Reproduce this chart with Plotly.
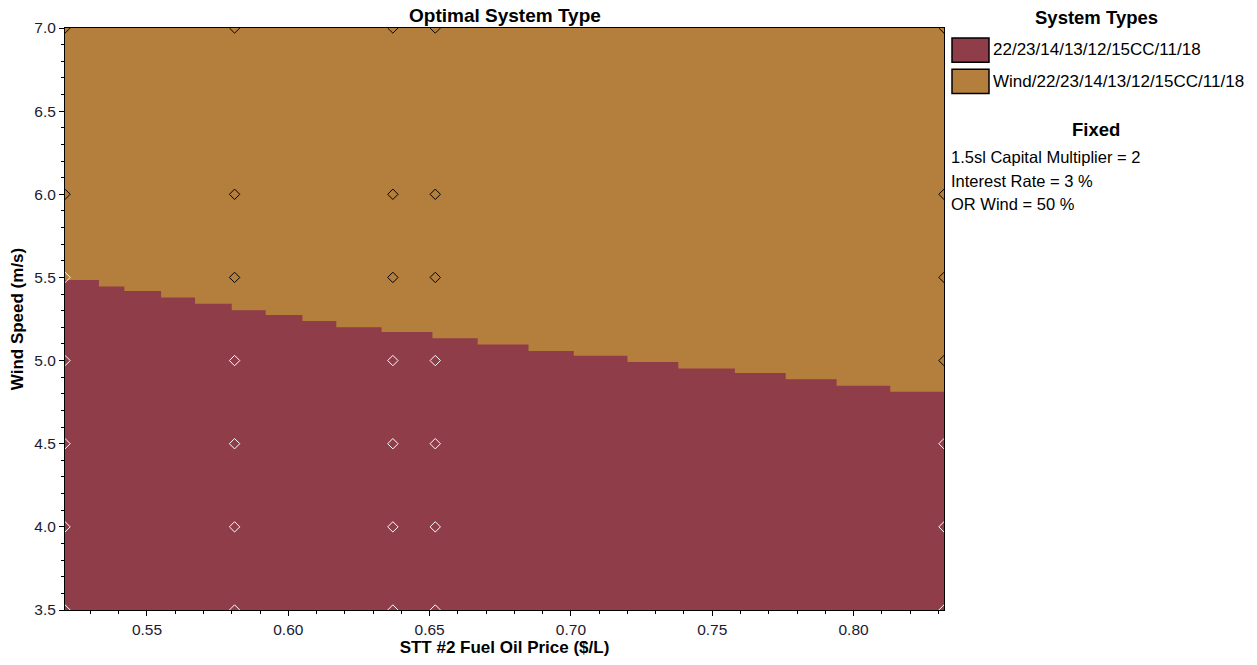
import plotly.graph_objects as go

# Optimal system boundary: fuel price at each step start and the wind speed
# above which the wind system becomes optimal
price_steps = [0.521, 0.533, 0.542, 0.555, 0.567, 0.580, 0.592, 0.605, 0.617, 0.633,
               0.651, 0.667, 0.685, 0.701, 0.720, 0.738, 0.758, 0.776, 0.794, 0.813, 0.832]
boundary_wind = [5.484, 5.445, 5.419, 5.379, 5.341, 5.303, 5.274, 5.238, 5.200, 5.172,
                 5.134, 5.096, 5.057, 5.029, 4.991, 4.953, 4.925, 4.887, 4.848, 4.812, 4.812]

# Sensitivity cases that were simulated
sens_prices = [0.521, 0.581, 0.637, 0.652, 0.832]
sens_winds = [3.5, 4.0, 4.5, 5.0, 5.5, 6.0, 7.0]
# lowest simulated wind speed at which the wind system is optimal, per price
wind_optimal_from = [6.0, 5.5, 5.5, 5.5, 5.0]

system_types = ["22/23/14/13/12/15CC/11/18", "Wind/22/23/14/13/12/15CC/11/18"]
system_colors = ["#8F3D49", "#B47F3C"]
fixed_lines = ["1.5sl Capital Multiplier = 2", "Interest Rate = 3 %", "OR Wind = 50 %"]

FONT = "Liberation Sans, Arial, sans-serif"

fig = go.Figure()

# non-wind region below the boundary (wind region is the plot background)
fig.add_trace(go.Scatter(
    x=price_steps, y=boundary_wind, mode="lines", line_shape="hv",
    line=dict(width=0, color=system_colors[0]),
    fill="tozeroy", fillcolor=system_colors[0],
    hoverinfo="skip", showlegend=False))

# sensitivity-case markers: white where no-wind system wins, black where wind wins
mx, my, mc = [], [], []
for p, w0 in zip(sens_prices, wind_optimal_from):
    for w in sens_winds:
        mx.append(p)
        my.append(w)
        mc.append("#000000" if w >= w0 else "#FFFFFF")
fig.add_trace(go.Scatter(
    x=mx, y=my, mode="markers",
    marker=dict(symbol="diamond-open", size=8, color=mc, line=dict(width=1, color=mc)),
    cliponaxis=True, showlegend=False, hoverinfo="x+y"))

axis_common = dict(showline=True, linecolor="#000000", linewidth=1, mirror=True,
                   ticks="outside", ticklen=5, tickcolor="#000000", showgrid=False,
                   zeroline=False, tickfont=dict(family=FONT, size=15.5, color="#1a1a33"))

fig.update_xaxes(range=[sens_prices[0], sens_prices[-1]], tick0=0.55, dtick=0.05,
                 tickformat=".2f",
                 minor=dict(dtick=0.01, ticks="outside", ticklen=3, tickcolor="#000000"),
                 title=dict(text="<b>STT #2 Fuel Oil Price ($/L)</b>", standoff=4,
                            font=dict(family=FONT, size=17, color="#000000")),
                 **axis_common)
fig.update_yaxes(range=[sens_winds[0], sens_winds[-1]], tick0=3.5, dtick=0.5,
                 tickformat=".1f",
                 minor=dict(dtick=0.1, ticks="outside", ticklen=3, tickcolor="#000000"),
                 title=dict(text="<b>Wind Speed (m/s)</b>", standoff=6,
                            font=dict(family=FONT, size=17, color="#000000")),
                 **axis_common)

W, H = 1257, 665
L, R, T, B = 65, 313, 28, 50

annotations = [
    dict(text="<b>Optimal System Type</b>", xref="paper", yref="paper", x=0.5, y=1,
         yanchor="bottom", yshift=0, showarrow=False,
         font=dict(family=FONT, size=19, color="#000000")),
]
shapes = []

def px_x(p):
    return (p - L) / (W - L - R)

def px_y(p):
    return 1 - (p - T) / (H - T - B)

legend_cx = 1096
annotations.append(dict(text="<b>System Types</b>", xref="paper", yref="paper",
                        x=px_x(legend_cx), y=px_y(17), xanchor="center", yanchor="middle",
                        showarrow=False, font=dict(family=FONT, size=18.5, color="#000000")))
for i, (name, col) in enumerate(zip(system_types, system_colors)):
    top = 38 + i * 31.5
    shapes.append(dict(type="rect", xref="paper", yref="paper",
                       x0=px_x(952), x1=px_x(989), y0=px_y(top), y1=px_y(top + 24.5),
                       fillcolor=col, line=dict(color="#000000", width=1.5)))
    annotations.append(dict(text=name, xref="paper", yref="paper",
                            x=px_x(991), y=px_y(top + 12), xanchor="left", yanchor="middle",
                            showarrow=False, font=dict(family=FONT, size=17, color="#000000")))

annotations.append(dict(text="<b>Fixed</b>", xref="paper", yref="paper",
                        x=px_x(legend_cx), y=px_y(130), xanchor="center", yanchor="middle",
                        showarrow=False, font=dict(family=FONT, size=18.5, color="#000000")))
for i, line in enumerate(fixed_lines):
    annotations.append(dict(text=line, xref="paper", yref="paper",
                            x=px_x(949), y=px_y(158 + i * 24), xanchor="left", yanchor="middle",
                            showarrow=False, font=dict(family=FONT, size=16.5, color="#000000")))

fig.update_layout(
    width=W, height=H,
    margin=dict(l=L, r=R, t=T, b=B, pad=0),
    paper_bgcolor="#FFFFFF", plot_bgcolor=system_colors[1],
    font=dict(family=FONT, color="#000000"),
    annotations=annotations, shapes=shapes,
    showlegend=False,
)

fig.write_html("out.html")
